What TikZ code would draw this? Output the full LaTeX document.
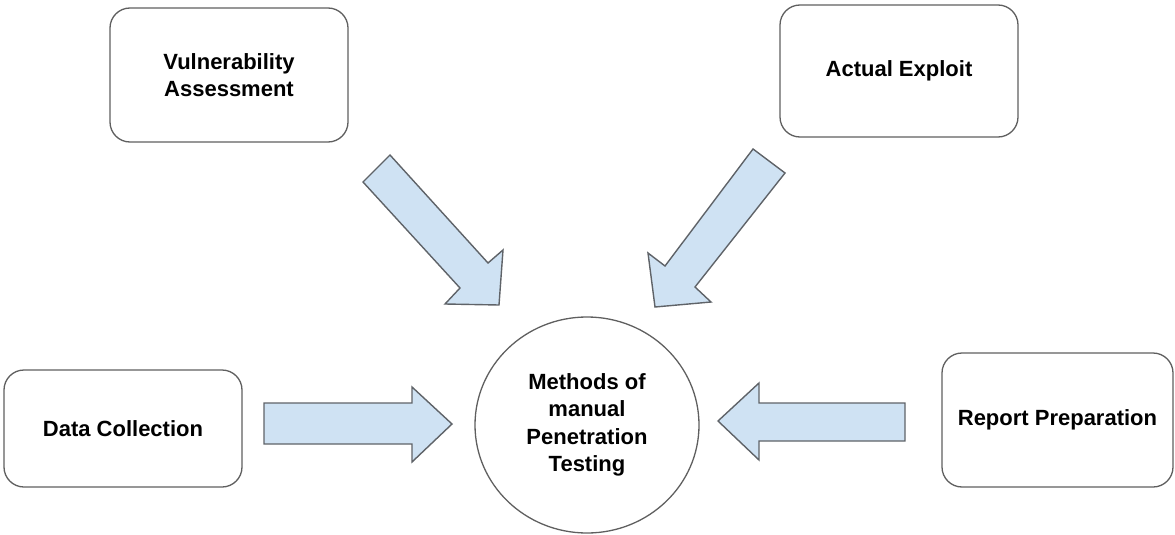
\documentclass[tikz,border=0pt]{standalone}
\usepackage{fontspec}
\setmainfont{Liberation Sans}
\usetikzlibrary{shapes.geometric}
\definecolor{edgegray}{HTML}{5F5F5F}
\definecolor{arrowfill}{HTML}{CFE2F3}
\definecolor{arrowline}{HTML}{5F6368}
\begin{document}
\begin{tikzpicture}[x=1pt,y=-1pt,
  txt/.style={font=\bfseries\fontsize{22}{27.5}\selectfont, align=center, text=black},
  box/.style={txt, draw=edgegray, line width=1.3pt, rounded corners=20pt, inner sep=0pt},
  hub/.style={txt, ellipse, draw=edgegray, line width=1.3pt, inner sep=0pt, minimum width=224pt, minimum height=216pt},
  blockarrow/.style={draw=arrowline, fill=arrowfill, line width=1.4pt, line join=miter}]
\useasboundingbox (0,0) rectangle (1175,535);
\node[box, minimum width=238pt, minimum height=134pt] (va) at (229,75) {Vulnerability\\Assessment};
\node[box, minimum width=238pt, minimum height=132pt] (ae) at (899,71) {Actual Exploit};
\node[box, minimum width=238pt, minimum height=117pt] (dc) at (123,428.5) {Data Collection};
\node[box, minimum width=231pt, minimum height=134pt] (rp) at (1057.5,420) {Report Preparation};
\node[hub] (hub) at (587,425) {Methods of\\manual\\Penetration\\Testing};
% block arrows
\draw[blockarrow] (390,155) -- (488,263) -- (503,250) -- (499,305) -- (445,304) -- (460,288) -- (363,182) -- cycle;
\draw[blockarrow] (753,149) -- (785,173) -- (695,287) -- (711,302) -- (655,307) -- (648,253) -- (665,266) -- cycle;
\draw[blockarrow] (264,403) -- (412,403) -- (412,387) -- (452,424) -- (412,462) -- (412,444) -- (264,444) -- cycle;
\draw[blockarrow] (905,403) -- (759,403) -- (759,383) -- (718,421) -- (759,460) -- (759,441) -- (905,441) -- cycle;
\end{tikzpicture}
\end{document}
